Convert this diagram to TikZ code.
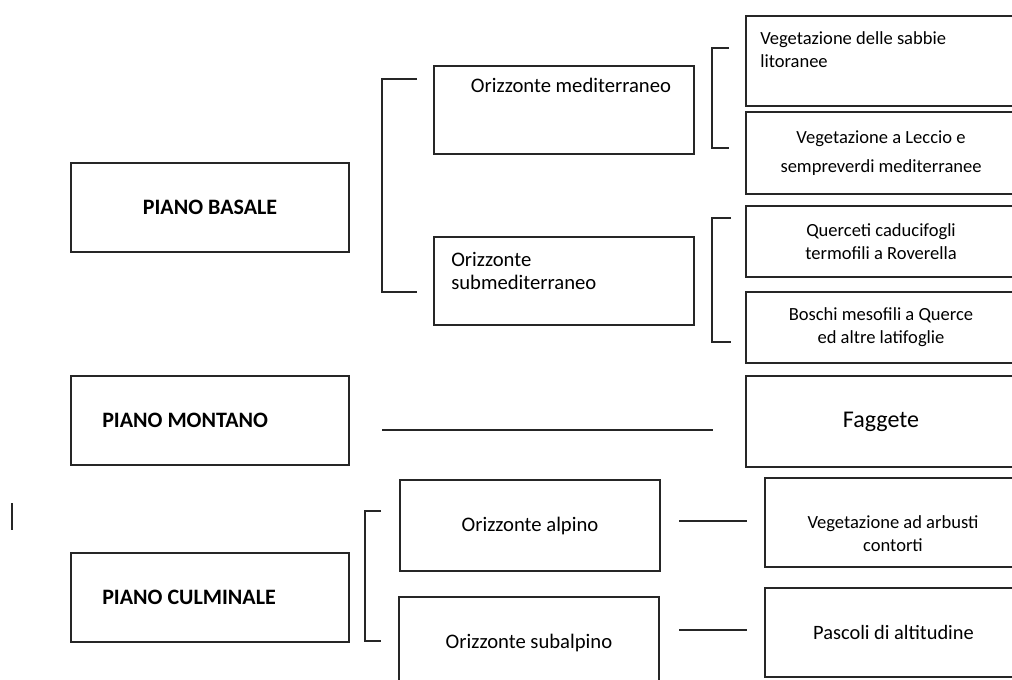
\documentclass[tikz,border=0pt]{standalone}
\usepackage{fontspec}
\setmainfont{Carlito}
\usetikzlibrary{positioning}

\definecolor{linegray}{HTML}{262626}

\tikzset{
	box/.style={draw=linegray, line width=0.9pt, inner sep=0pt},
	leftbox/.style={box, minimum width=208.5pt, minimum height=66.75pt},
	midbox/.style={box, minimum width=195pt, minimum height=66pt},
	rightbox/.style={box, minimum width=202.5pt},
	lowbox/.style={box, minimum width=192.75pt, minimum height=66.75pt},
	conn/.style={draw=linegray, line width=0.9pt},
	bigtxt/.style={font=\fontsize{16.5}{19}\selectfont\bfseries, inner sep=0pt},
	midtxt/.style={font=\fontsize{15.5}{17.25}\selectfont, inner sep=0pt, align=left},
	smalltxt/.style={font=\fontsize{13.9}{17.25}\selectfont, inner sep=0pt, align=center}
}

\begin{document}
\begin{tikzpicture}[x=0.75pt, y=-0.75pt]
		\useasboundingbox (0,0) rectangle (1012,680);
		\clip (0,0) rectangle (1012,680);
		% piani
		\node[leftbox, bigtxt] (basale) at (210,207.5) {PIANO BASALE};
		\node[leftbox] (montano) at (210,420.5) {};
		\node[bigtxt, anchor=west] (montano-t) at (102,420) {PIANO MONTANO};
		\node[leftbox] (culminale) at (210,597.5) {};
		\node[bigtxt, anchor=west] (culminale-t) at (102,597) {PIANO CULMINALE};
		% orizzonti
		\node[midbox] (med) at (564,110) {};
		\node[midtxt] (med-t) at (571,85) {Orizzonte mediterraneo};
		\node[midbox] (submed) at (564,281) {};
		\node[midtxt, anchor=west] (submed-t) at (451,270.5) {Orizzonte\\submediterraneo};
		\node[midbox, minimum height=68.25pt, midtxt] (alpino) at (530,525.5) {Orizzonte alpino};
		\node[midbox, minimum height=68.25pt, midtxt] (subalpino) at (529,642.5) {Orizzonte subalpino};
		% vegetazione
		\node[rightbox, minimum height=67.5pt] (sabbie) at (881,61) {};
		\node[smalltxt, align=left, anchor=west] (sabbie-t) at (760,50) {Vegetazione delle sabbie\\litoranee};
		\node[rightbox, minimum height=61.5pt, smalltxt] (leccio) at (881,153) {Vegetazione a Leccio e\\[4pt]sempreverdi mediterranee};
		\node[rightbox, minimum height=53.25pt, smalltxt] (querceti) at (881,241.5) {Querceti caducifogli\\termofili a Roverella};
		\node[rightbox, minimum height=53.25pt, smalltxt] (boschi) at (881,327.5) {Boschi mesofili a Querce\\ed altre latifoglie};
		\node[rightbox, minimum height=68.25pt, font=\fontsize{18}{20}\selectfont] (faggete) at (881,421.5) {Faggete};
		\node[lowbox] (arbusti) at (893.5,522.5) {};
		\node[smalltxt] (arbusti-t) at (893,533.5) {Vegetazione ad arbusti\\contorti};
		\node[lowbox, font=\fontsize{15.3}{17}\selectfont] (pascoli) at (893.5,632.5) {Pascoli di altitudine};
		% parentesi
		\coordinate (b1) at (417,79);  \coordinate (b2) at (417,292);
		\coordinate (b3) at (729,48);  \coordinate (b4) at (729,148);
		\coordinate (b5) at (731,218); \coordinate (b6) at (731,342);
		\coordinate (b7) at (381,511); \coordinate (b8) at (381,641);
		\draw[conn] (b1) -- ++(-35,0) |- (b2);
		\draw[conn] (b3) -- ++(-17,0) |- (b4);
		\draw[conn] (b5) -- ++(-19,0) |- (b6);
		\draw[conn] (b7) -- ++(-16,0) |- (b8);
		% linee
		\coordinate (m1) at (382,430); \coordinate (m2) at (713,430);
		\coordinate (a1) at (679,521); \coordinate (a2) at (747,521);
		\coordinate (s1) at (679,630); \coordinate (s2) at (747,630);
		\draw[conn] (m1) -- (m2);
		\draw[conn] (a1) -- (a2);
		\draw[conn] (s1) -- (s2);
		\coordinate (v1) at (12,503); \coordinate (v2) at (12,530);
		\draw[conn] (v1) -- (v2);
	\end{tikzpicture}
\end{document}
